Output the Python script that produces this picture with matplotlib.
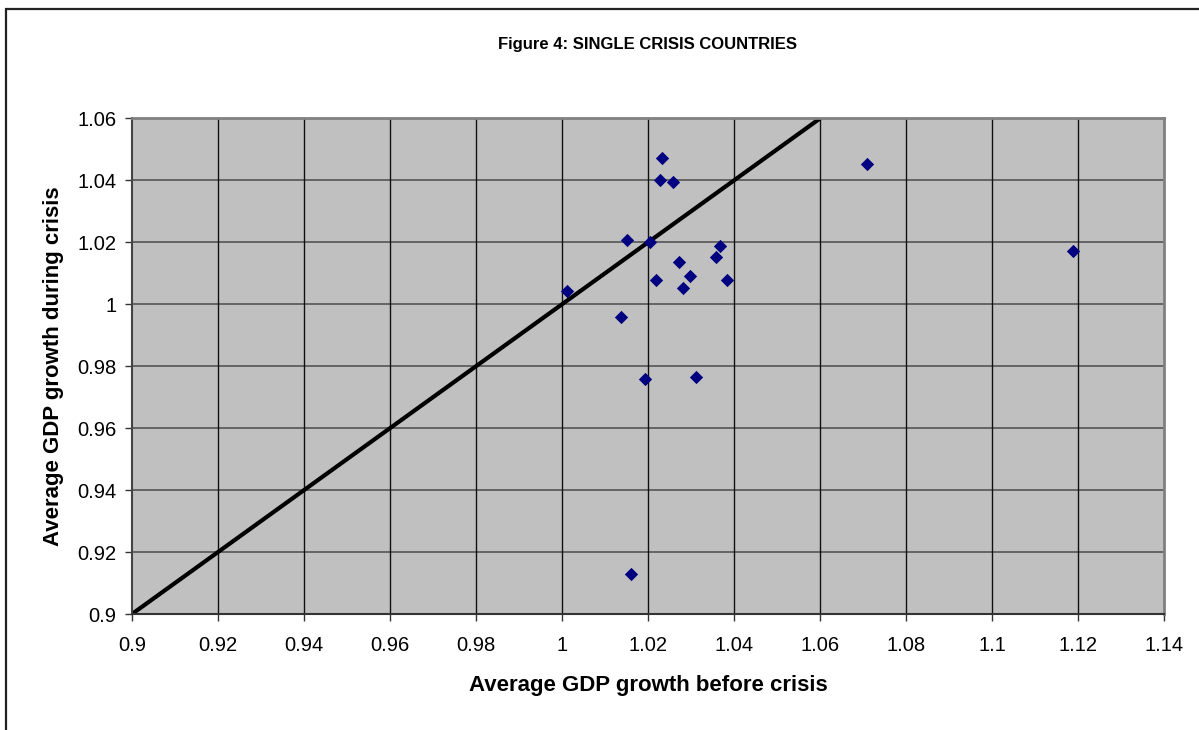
import matplotlib.pyplot as plt
import matplotlib.patches as mpatches

# average GDP growth before / during the crisis, one point per country
growth_before = [1.0233, 1.0228, 1.0257, 1.0150, 1.0205, 1.0368, 1.0358, 1.0271,
                 1.0298, 1.0219, 1.0383, 1.0280, 1.0011, 1.0136, 1.0192, 1.0312,
                 1.0160, 1.1188, 1.0709]
growth_during = [1.0471, 1.0401, 1.0394, 1.0206, 1.0200, 1.0189, 1.0153, 1.0135,
                 1.0090, 1.0077, 1.0077, 1.0051, 1.0044, 0.9960, 0.9758, 0.9764,
                 0.9129, 1.0173, 1.0453]

# 45 degree reference line
diag = [0.9, 1.06]

x_ticks = [0.9, 0.92, 0.94, 0.96, 0.98, 1.0, 1.02, 1.04, 1.06, 1.08, 1.1, 1.12, 1.14]
x_labels = ['0.9', '0.92', '0.94', '0.96', '0.98', '1', '1.02', '1.04', '1.06',
            '1.08', '1.1', '1.12', '1.14']
y_ticks = [0.9, 0.92, 0.94, 0.96, 0.98, 1.0, 1.02, 1.04, 1.06]
y_labels = ['0.9', '0.92', '0.94', '0.96', '0.98', '1', '1.02', '1.04', '1.06']

plt.rcParams['font.family'] = ['Liberation Sans', 'DejaVu Sans']

fig = plt.figure(figsize=(11.99, 7.30), dpi=100)

# chart border (runs off the right and bottom edge)
fig.patches.append(mpatches.Rectangle((6 / 1199, -0.05), 1.2, 1 - 9 / 730 + 0.05,
                                      transform=fig.transFigure, fill=False,
                                      edgecolor='#222222', linewidth=1.6))

ax = fig.add_axes([132 / 1199, 1 - 614 / 730, (1164.3 - 132) / 1199, (614 - 118.3) / 730])
ax.set_facecolor('#C0C0C0')

for y in y_ticks[1:]:
    ax.axhline(y, color='#555555', linewidth=1.2, zorder=1)
for x in x_ticks[1:-1]:
    ax.axvline(x, color='#111111', linewidth=1.0, zorder=1)

ax.plot(diag, diag, color='black', linewidth=3, zorder=2, solid_capstyle='butt')
ax.scatter(growth_before, growth_during, marker='D', s=46, color='#000080',
           linewidths=0, zorder=3)

ax.set_xlim(0.9, 1.14)
ax.set_ylim(0.9, 1.06)
ax.set_xticks(x_ticks)
ax.set_xticklabels(x_labels)
ax.set_yticks(y_ticks)
ax.set_yticklabels(y_labels)
ax.tick_params(axis='both', labelsize=14.5, length=5, width=1, color='#333333', direction='out')
ax.tick_params(axis='x', pad=11)
ax.tick_params(axis='y', pad=6)

for side in ['top', 'right']:
    ax.spines[side].set_color('#808080')
    ax.spines[side].set_linewidth(2)
ax.spines['left'].set_color('#444444')
ax.spines['left'].set_linewidth(1.5)
ax.spines['bottom'].set_color('#333333')
ax.spines['bottom'].set_linewidth(1.5)

ax.set_xlabel('Average GDP growth before crisis', fontsize=16, fontweight='bold', labelpad=14)
ax.set_ylabel('Average GDP growth during crisis', fontsize=16, fontweight='bold', labelpad=10)
fig.text(648 / 1199, 1 - 45 / 730, 'Figure 4: SINGLE CRISIS COUNTRIES', ha='center', va='center',
         fontsize=12, fontweight='bold')

fig.savefig('out.png', dpi=100)
